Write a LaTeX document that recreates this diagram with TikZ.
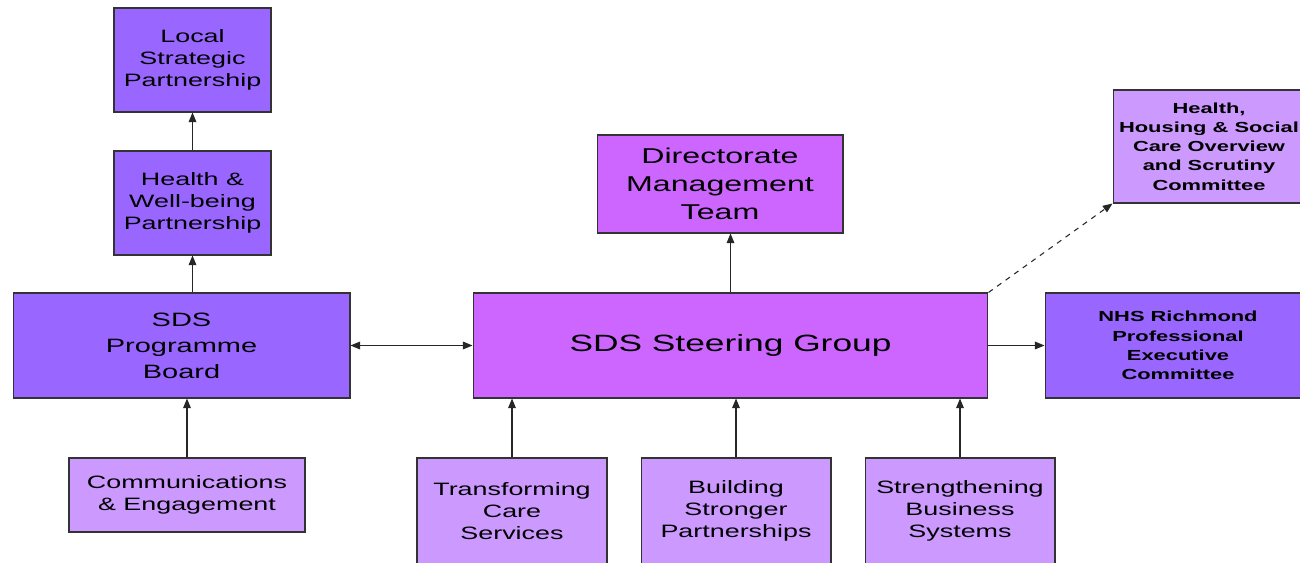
\documentclass[tikz,border=0pt]{standalone}
\usepackage{fontspec}
\setmainfont{Liberation Sans}[FakeStretch=1.5]
\usepackage{tikz}
\usetikzlibrary{arrows.meta,
calc
}
\definecolor{boardpurple}{HTML}{9966FF}
\definecolor{steerpink}{HTML}{CC66FF}
\definecolor{workilac}{HTML}{CC99FF}
\tikzset{>={Triangle[length=5.5pt, width=4.4pt]}}
\tikzset{
  orgbox/.style={draw=black!80, line width=0.6pt, align=center, inner sep=0pt},
  smalltext/.style={font=\fontsize{10.2}{12.5}\selectfont},
  tinytext/.style={font=\bfseries\fontsize{8.3}{10.9}\selectfont},
  link/.style={draw=black!85, line width=0.6pt}
}

\begin{document}
\begin{tikzpicture}[x=0.02cm, y=-0.02cm]
  \useasboundingbox (0, 0) rectangle (1300, 563);

  % left column
  \node[orgbox, smalltext, fill=boardpurple, minimum width=3.14cm, minimum height=2.08cm] (lsp) at (192.5, 60) {Local\\Strategic\\Partnership};
  \node[orgbox, smalltext, fill=boardpurple, minimum width=3.14cm, minimum height=2.08cm] (hwb) at (192.5, 203) {Health \&\\Well-being\\Partnership};
  \node[orgbox, fill=boardpurple, font=\fontsize{11}{14.8}\selectfont, minimum width=6.74cm, minimum height=2.1cm] (board) at (181.5, 345.5) {SDS\\Programme\\Board};
  \node[orgbox, smalltext, fill=workilac, minimum width=4.72cm, minimum height=1.48cm] (comms) at (187, 495) {Communications\\\& Engagement};

  % middle
  \node[orgbox, fill=steerpink, font=\fontsize{12.2}{15.9}\selectfont, minimum width=4.92cm, minimum height=1.96cm] (dmt) at (720, 184) {Directorate\\Management\\Team};
  \node[orgbox, fill=steerpink, font=\fontsize{13.4}{16}\selectfont, minimum width=10.3cm, minimum height=2.1cm] (steer) at (730.5, 345.5) {SDS Steering Group};
  \node[orgbox, smalltext, fill=workilac, minimum width=3.8cm, minimum height=2.12cm] (tcs) at (512, 511) {Transforming\\Care\\Services};
  \node[orgbox, smalltext, fill=workilac, minimum width=3.8cm, minimum height=2.12cm] (bsp) at (736, 511) {Building\\Stronger\\Partnerships};
  \node[orgbox, smalltext, fill=workilac, minimum width=3.8cm, minimum height=2.12cm] (sbs) at (960, 511) {Strengthening\\Business\\Systems};

  % right
  \node[orgbox, tinytext, fill=workilac, minimum width=3.84cm, minimum height=2.26cm] (hhsc) at (1209, 146.5) {Health,\\Housing \& Social\\Care Overview\\and Scrutiny\\Committee};
  \node[orgbox, tinytext, fill=boardpurple, minimum width=5.32cm, minimum height=2.1cm] (nhs) at (1178, 345.5) {NHS Richmond\\Professional\\Executive\\Committee};

  \draw[link, ->] (hwb.north) to (lsp.south);
  \draw[link, ->] (hwb.south |- board.north) to (hwb.south);
  \draw[link, ->] (comms.north) to (comms.north |- board.south);
  \draw[link, <->] (board.east) to (steer.west);
  \draw[link, ->] (steer.north) to (steer.north |- dmt.south);
  \draw[link, ->] (steer.east) to (nhs.west);
  \draw[link, dashed, ->] (steer.north east) to (hhsc.south west);
  \foreach \w in {tcs, bsp, sbs}
    \draw[link, ->] (\w.north) to (\w.north |- steer.south);
\end{tikzpicture}
\end{document}
